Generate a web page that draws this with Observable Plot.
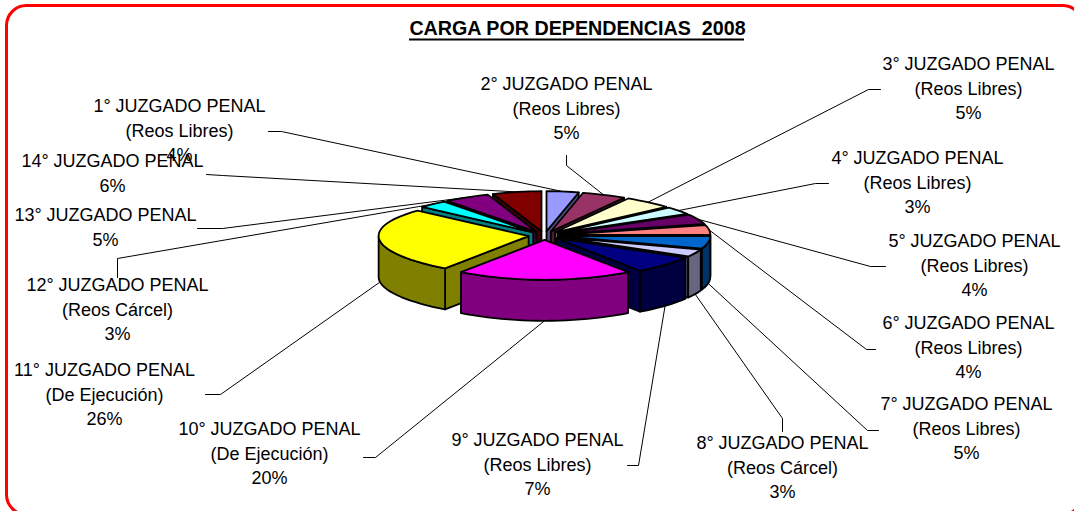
<!DOCTYPE html>
<html><head><meta charset="utf-8">
<style>html,body{margin:0;padding:0;background:#fff;overflow:hidden}</style>
<script src="https://cdn.jsdelivr.net/npm/d3@7"></script>
<script src="https://cdn.jsdelivr.net/npm/@observablehq/plot@0.6"></script>
</head><body><div id="chart"></div>
<script>
const juzgados = ["1° JUZGADO PENAL","2° JUZGADO PENAL","3° JUZGADO PENAL","4° JUZGADO PENAL","5° JUZGADO PENAL","6° JUZGADO PENAL","7° JUZGADO PENAL","8° JUZGADO PENAL","9° JUZGADO PENAL","10° JUZGADO PENAL","11° JUZGADO PENAL","12° JUZGADO PENAL","13° JUZGADO PENAL","14° JUZGADO PENAL"];
const tipos = ["(Reos Libres)","(Reos Libres)","(Reos Libres)","(Reos Libres)","(Reos Libres)","(Reos Libres)","(Reos Libres)","(Reos Cárcel)","(Reos Libres)","(De Ejecución)","(De Ejecución)","(Reos Cárcel)","",""];
const valores = [4,5,5,3,4,4,5,3,7,20,26,3,5,6];
const colores = ["#9999FF","#993366","#FFFFCC","#CCFFFF","#660066","#FF8080","#0066CC","#CCCCFF","#000080","#FF00FF","#FFFF00","#00FFFF","#800080","#800000"];
const titulo = "CARGA POR DEPENDENCIAS  2008";

// Label layout: text centre, first line centre, leader elbow start/end
const labelX = [179,566,968,917,974,968,966,782,537,269,104,117,105,112];
const labelY = [106,84,64,158,241,323,404,443,440,429,370,285,215,161];
const stubA = [[268,131],[566,155],[880,89],[828,183],[885,266],[875,349],[878,430],[782,431],[627,465],[363,457],[205,394],[117,277],[197,228],[206,174]];
const stubB = [[281,131],[566,165],[868,89],[815,183],[870,266],[866,349],[867,430],[782,418],[638,465],[375,457],[220,394],[117,258],[222,228],[222,175]];

// Pie geometry
const cx = 544, cy = 235, rx = 150, ry = 40, depth = 41, boom = 16;
const rad = d => d * Math.PI / 180;
const project = (deg, r, z, mid) => {
  const c = Math.cos(rad(deg)), s = Math.sin(rad(deg));
  const k = c > 0 ? 1 - 0.15 * Math.pow(c, 3) : 1 - 0.08 * c * c;
  return [cx + boom * Math.sin(rad(mid)) + rx * r * s * k,
          cy - boom * 0.27 * Math.cos(rad(mid)) - ry * r * c + z];
};

const total = d3.sum(valores);
let acc = 0;
const slices = valores.map((v, i) => {
  const a0 = acc / total * 360; acc += v; const a1 = acc / total * 360;
  return {i, a0, a1, mid: (a0 + a1) / 2};
});
const dark = c => { const q = d3.rgb(c); return d3.rgb(q.r / 2, q.g / 2, q.b / 2).formatHex(); };

const polys = [];
const poly = (pts, fill) => { const id = polys.length ? polys[polys.length - 1].id + 1 : 0;
  [...pts, pts[0]].forEach(([x, y]) => polys.push({id, x, y, fill})); };
const arc = (a, b, z, mid) => { const n = Math.max(2, Math.ceil((b - a) / 3)); return d3.range(n + 1).map(j => project(a + (b - a) * j / n, 1, z, mid)); };

[...slices].sort((p, q) => Math.cos(rad(q.mid)) - Math.cos(rad(p.mid))).forEach(s => {
  const side = dark(colores[s.i]);
  const wall = a => { const p = project(a, 1, 0, s.mid), o = project(a, 0, 0, s.mid);
    poly([o, p, [p[0], p[1] + depth], [o[0], o[1] + depth]], side); };
  if (Math.sin(rad(s.a0)) < 0) wall(s.a0);
  if (Math.sin(rad(s.a1)) > 0) wall(s.a1);
  const f0 = Math.max(s.a0, 90), f1 = Math.min(s.a1, 270);
  if (f1 > f0) { const top = arc(f0, f1, 0, s.mid), bot = arc(f0, f1, depth, s.mid).reverse(); poly([...top, ...bot], side); }
  poly([project(0, 0, 0, s.mid), ...arc(s.a0, s.a1, 0, s.mid)], colores[s.i]);
});

const leaders = slices.flatMap(s => {
  const front = s.mid > 90 && s.mid < 270;
  const end = project(s.mid, 1, front ? depth : 0, s.mid);
  return [stubA[s.i], stubB[s.i], end].map(([x, y]) => ({id: s.i, x, y}));
});

const lineGap = 24.5;
const textRows = juzgados.flatMap((j, i) => {
  const lines = [j, tipos[i], valores[i] + "%"].filter(t => t);
  return lines.map((t, n) => ({t, x: labelX[i], y: labelY[i] + n * lineGap}));
});

const plot = Plot.plot({
  width: 1074, height: 511, margin: 0,
  x: {domain: [0, 1074], range: [0, 1074], axis: null},
  y: {domain: [0, 511], range: [0, 511], axis: null},
  color: {type: "identity"},
  style: {background: "#fff", fontFamily: "'Liberation Sans', Arial, sans-serif", overflow: "hidden"},
  marks: [
    Plot.frame({stroke: "#FF0000", strokeWidth: 3, rx: 20, insetLeft: 6, insetTop: 5, insetRight: -8, insetBottom: -3}),
    Plot.line(leaders, {x: "x", y: "y", z: "id", stroke: "#000", strokeWidth: 1}),
    Plot.line(polys, {x: "x", y: "y", z: "id", fill: "fill", stroke: "#000", strokeWidth: 1.8, strokeLinejoin: "round", curve: "linear"}),
    Plot.text(textRows, {x: "x", y: "y", text: "t", fontSize: 18, fill: "#000", lineAnchor: "middle"}),
    Plot.text([titulo], {x: () => 577, y: () => 28, text: d => d, fontSize: 19.7, fontWeight: "bold", fill: "#000", lineAnchor: "middle"}),
    Plot.ruleY([39], {x1: 409, x2: 744, stroke: "#000", strokeWidth: 2})
  ]
});
document.getElementById("chart").append(plot);
</script></body></html>
